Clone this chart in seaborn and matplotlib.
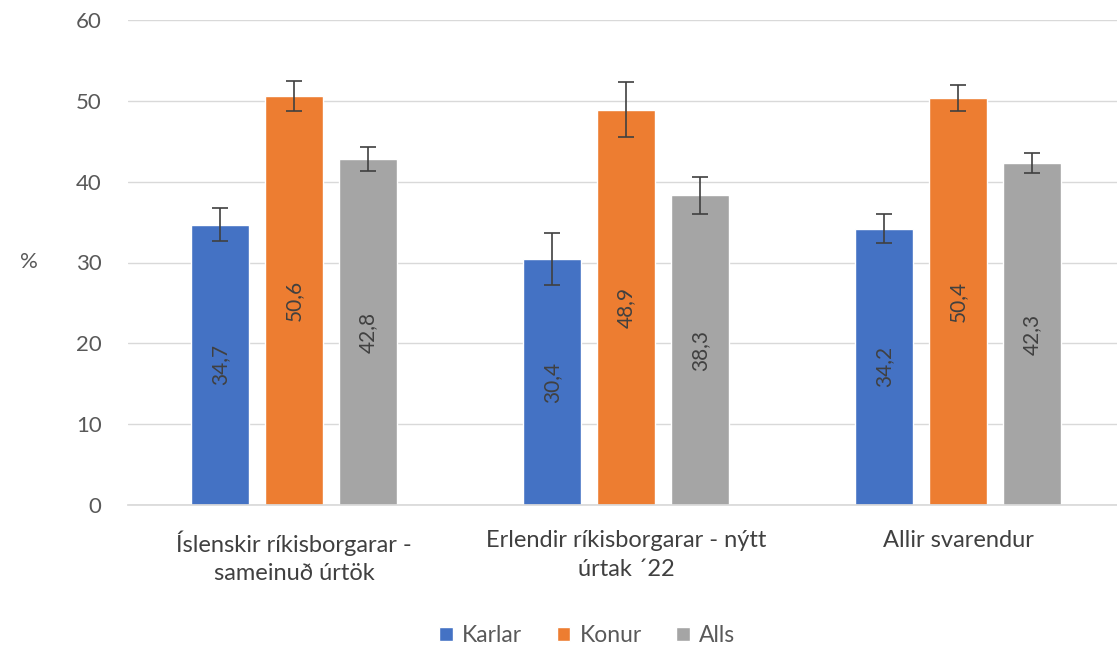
import matplotlib
matplotlib.use("Agg")
import matplotlib.pyplot as plt
import seaborn as sns
import pandas as pd
import numpy as np

categories = ["Íslenskir ríkisborgarar -\nsameinuð úrtök",
              "Erlendir ríkisborgarar - nýtt\núrtak ´22",
              "Allir svarendur"]
groups = ["Karlar", "Konur", "Alls"]
karlar = [34.7, 30.4, 34.2]
konur = [50.6, 48.9, 50.4]
alls = [42.8, 38.3, 42.3]
err_karlar = [2.0, 3.2, 1.8]
err_konur = [1.9, 3.4, 1.6]
err_alls = [1.5, 2.3, 1.2]
colors = ["#4472C4", "#ED7D31", "#A5A5A5"]

rows = []
for g, vals, errs in zip(groups, [karlar, konur, alls], [err_karlar, err_konur, err_alls]):
    for c, v, e in zip(categories, vals, errs):
        rows.append({"cat": c, "grp": g, "val": v, "err": e})
df = pd.DataFrame(rows)

sns.set_theme(style="white")
plt.rcParams["font.family"] = ["Lato", "DejaVu Sans"]

fig = plt.figure(figsize=(11.17, 6.53), dpi=100)
ax = fig.add_axes([128 / 1117, 1 - 505 / 653, (1124 - 128) / 1117, (505 - 20) / 653])

sns.barplot(data=df, x="cat", y="val", hue="grp", order=categories, hue_order=groups,
            palette=colors, width=0.67, gap=0.216, errorbar=None, ax=ax, legend=True,
            saturation=1)

# error bars and labels
for cont, g in zip(ax.containers, groups):
    sub = df[df.grp == g].set_index("cat").loc[categories]
    xs = [p.get_x() + p.get_width() / 2 for p in cont.patches]
    ax.errorbar(xs, sub["val"].values, yerr=sub["err"].values, fmt="none",
                ecolor="#404040", elinewidth=1.2, capsize=5.5, capthick=1.2, zorder=5)
    labels = [f"{v:.1f}".replace(".", ",") for v in sub["val"].values]
    ax.bar_label(cont, labels=labels, label_type="center", rotation=90,
                 color="#404040", fontsize=15)

ax.set_ylim(0, 60)
ax.set_xlim(-0.5, 2.5)
ax.set_yticks(range(0, 61, 10))
ax.yaxis.grid(True, color="#D9D9D9", linewidth=1)
ax.set_axisbelow(True)
for s in ["top", "right", "left"]:
    ax.spines[s].set_visible(False)
ax.spines["bottom"].set_color("#D9D9D9")
ax.tick_params(axis="y", colors="#595959", labelsize=16, length=0, pad=19)
ax.tick_params(axis="x", colors="#404040", labelsize=17, length=0, pad=18)
for t in ax.get_xticklabels():
    t.set_color("#404040")
    t.set_linespacing(1.45)
ax.set_xlabel("")
ax.set_ylabel("%", rotation=0, color="#595959", fontsize=16, labelpad=34, va="center")

leg = ax.legend(loc="upper center", bbox_to_anchor=(0.461, -0.205), ncol=3,
                frameon=False, fontsize=16.5, handlelength=0.6, handleheight=0.6,
                handletextpad=0.4, columnspacing=1.5)
for t in leg.get_texts():
    t.set_color("#595959")

fig.savefig("out.png", dpi=100)
